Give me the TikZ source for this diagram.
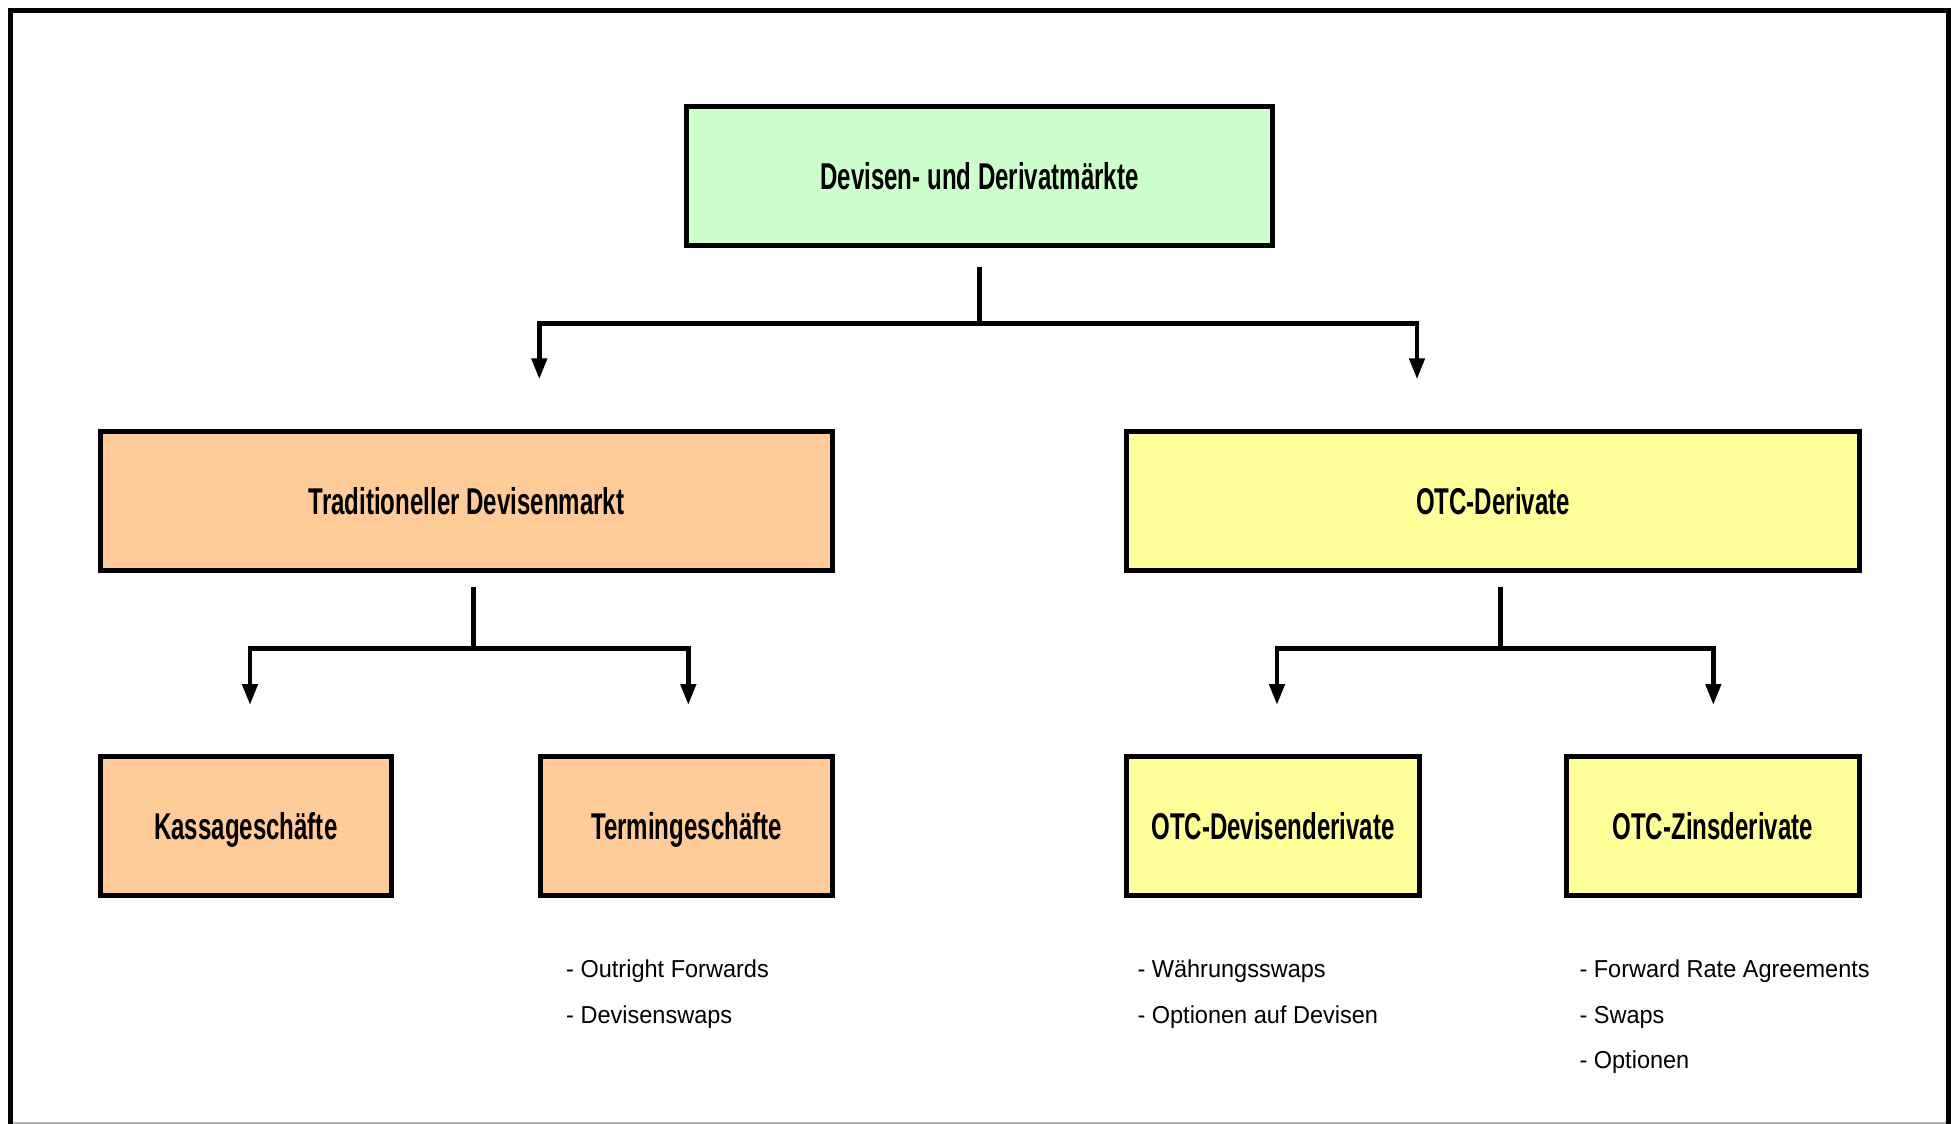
\documentclass[tikz,border=0pt]{standalone}
\usepackage{fontspec}
\usetikzlibrary{arrows.meta}
\newfontfamily\boxfont{Liberation Sans}[FakeStretch=0.645]
\newfontfamily\listfont{Liberation Sans}[FakeStretch=0.96]
\definecolor{mint}{RGB}{204,255,204}
\definecolor{apricot}{RGB}{255,204,153}
\definecolor{lemon}{RGB}{255,255,153}

\begin{document}
\begin{tikzpicture}[x=1pt,y=-1pt,
    box/.style={draw,line width=5.5pt,outer sep=0pt,inner sep=0pt,minimum height=139pt,
      text height=26.7pt,text depth=0pt,font=\boxfont\bfseries\fontsize{37.3}{40}\selectfont},
    link/.style={line width=4.6pt},
    arrow/.style={line width=4.6pt,-{Triangle[length=21pt,width=15pt]}},
    entry/.style={anchor=base west,inner sep=0pt,font=\listfont\fontsize{24.5}{30}\selectfont}]
  \useasboundingbox (0,0) rectangle (1951,1124);
  \clip (0,0) rectangle (1951,1124);
  \draw[line width=5.5pt] (10.6,10.3) rectangle (1948.5,1160);
  \draw[gray!60,line width=1.5pt] (13,1123) -- (1946,1123);

  \node[box,fill=mint,minimum width=586pt] (markt) at (979.5,176.2) {Devisen- und Derivatmärkte};
  \node[box,fill=apricot,minimum width=732pt] (trad) at (466.5,501) {Traditioneller Devisenmarkt};
  \node[box,fill=lemon,minimum width=733pt] (otc) at (1493,501) {OTC-Derivate};
  \node[box,fill=apricot,minimum width=291pt] (kassa) at (245.8,826) {Kassageschäfte};
  \node[box,fill=apricot,minimum width=292pt] (termin) at (686.6,826) {Termingeschäfte};
  \node[box,fill=lemon,minimum width=293pt] (otcdev) at (1273,826) {OTC-Devisenderivate};
  \node[box,fill=lemon,minimum width=293pt] (otczins) at (1712.8,826) {OTC-Zinsderivate};

  \coordinate (marktjoin) at (979.5,323.5);
  \coordinate (tradtip) at (539.3,379.3);
  \coordinate (otctip) at (1417,379.3);
  \draw[link] ([yshift=-21pt]markt.south) -- (marktjoin);
  \draw[arrow] (marktjoin) -| (tradtip);
  \draw[arrow] (marktjoin) -| (otctip);

  \coordinate (tradjoin) at (473.3,648.3);
  \coordinate (kassatip) at (250,705);
  \coordinate (termintip) at (688.3,705);
  \draw[link] ([xshift=6.8pt,yshift=-16pt]trad.south) -- (tradjoin);
  \draw[arrow] (tradjoin) -| (kassatip);
  \draw[arrow] (tradjoin) -| (termintip);

  \coordinate (otcjoin) at (1500.5,648.3);
  \coordinate (otcdevtip) at (1277,705);
  \coordinate (otczinstip) at (1713.3,705);
  \draw[link] ([xshift=7.5pt,yshift=-16pt]otc.south) -- (otcjoin);
  \draw[arrow] (otcjoin) -| (otcdevtip);
  \draw[arrow] (otcjoin) -| (otczinstip);

  \foreach \txt [count=\i] in {Outright Forwards,Devisenswaps}
    \node[entry] (termin-\i) at (566,{977.5+45.5*(\i-1)}) {- \txt};
  \foreach \txt [count=\i] in {Währungsswaps,Optionen auf Devisen}
    \node[entry] (otcdev-\i) at (1137.3,{977.5+45.5*(\i-1)}) {- \txt};
  \foreach \txt [count=\i] in {Forward Rate Agreements,Swaps,Optionen}
    \node[entry] (otczins-\i) at (1579.3,{977.5+45.5*(\i-1)}) {- \txt};
\end{tikzpicture}
\end{document}
